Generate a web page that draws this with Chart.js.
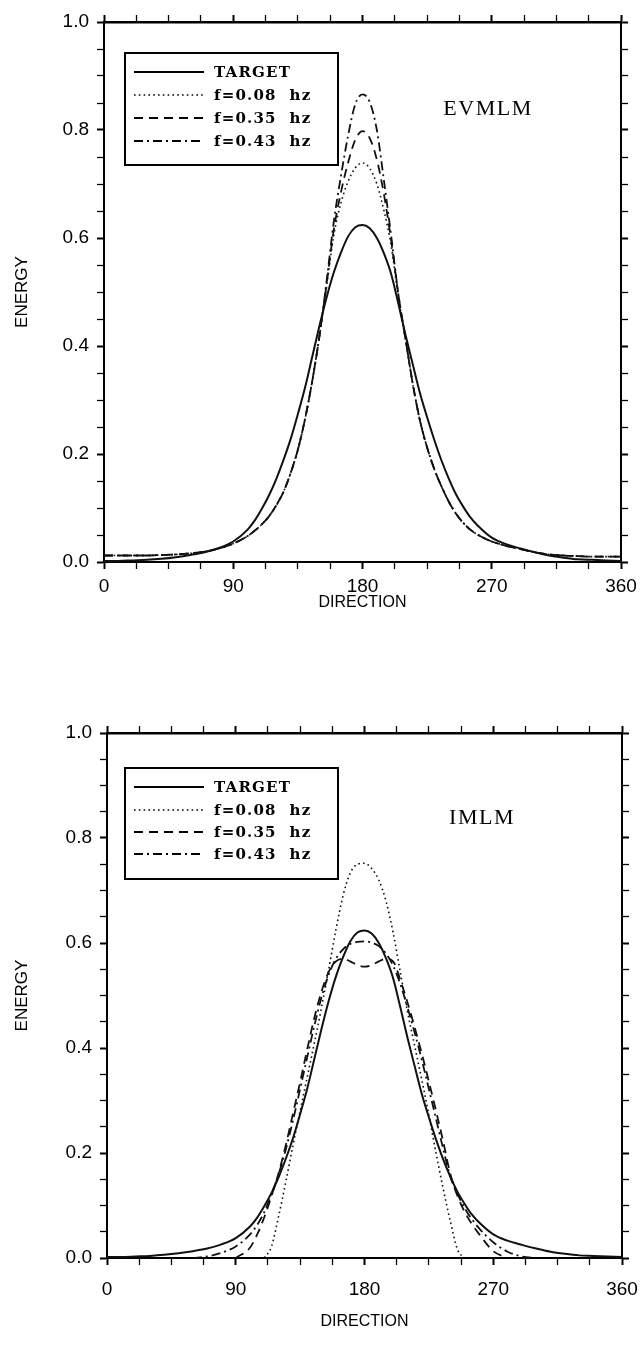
<!DOCTYPE html>
<html lang="en">

<head>
    <meta charset="UTF-8">
    <title>Directional spreading - EVMLM / IMLM</title>
    <script src="https://cdn.jsdelivr.net/npm/chart.js"></script>
    <style>
        body {
            margin: 0;
            padding: 0;
            background: #fff;
        }

        canvas {
            position: absolute;
            left: 0;
        }

        #evmlmChart {
            top: 0;
        }

        #imlmChart {
            top: 660px;
        }
    </style>
</head>

<body>
    <canvas id="evmlmChart" width="644" height="620" style="width:644px;height:620px"></canvas>
    <canvas id="imlmChart" width="644" height="687" style="width:644px;height:687px"></canvas>

    <script>
        // direction (deg) sample points shared by every curve
        const directions = [0, 10, 20, 30, 40, 50, 60, 70, 80, 90, 100,
            105, 110, 115, 120, 125, 130, 135, 140, 145, 150, 155, 160, 165, 170, 175, 180,
            185, 190, 195, 200, 205, 210, 215, 220, 225, 230, 235, 240, 245, 250, 255,
            260, 270, 280, 290, 300, 310, 320, 330, 340, 350, 360];

        const seriesLabels = ['TARGET', 'f=0.08  hz', 'f=0.35  hz', 'f=0.43  hz'];

        // target spreading function (same in both panels)
        const target = [0.002, 0.002, 0.003, 0.004, 0.006, 0.009, 0.013, 0.018, 0.026, 0.038, 0.060,
            0.077, 0.099, 0.124, 0.154, 0.189, 0.228, 0.274, 0.323, 0.380, 0.437, 0.490, 0.536, 0.573, 0.603, 0.620, 0.624,
            0.618, 0.600, 0.571, 0.533, 0.478, 0.420, 0.366, 0.313, 0.268, 0.226, 0.188, 0.155, 0.126, 0.103, 0.083,
            0.068, 0.045, 0.033, 0.025, 0.018, 0.012, 0.008, 0.005, 0.004, 0.003, 0.002];

        // EVMLM estimates
        const evmlm008 = [0.012, 0.012, 0.012, 0.012, 0.013, 0.014, 0.016, 0.019, 0.025, 0.034, 0.048,
            0.058, 0.070, 0.085, 0.105, 0.130, 0.165, 0.208, 0.265, 0.335, 0.418, 0.510, 0.605, 0.665, 0.705, 0.730, 0.739,
            0.729, 0.700, 0.650, 0.585, 0.490, 0.412, 0.330, 0.262, 0.212, 0.172, 0.140, 0.112, 0.090, 0.073, 0.060,
            0.051, 0.038, 0.030, 0.024, 0.018, 0.014, 0.012, 0.011, 0.010, 0.010, 0.010];
        const evmlm035 = [0.012, 0.012, 0.012, 0.012, 0.013, 0.014, 0.016, 0.019, 0.025, 0.034, 0.048,
            0.058, 0.070, 0.085, 0.105, 0.130, 0.165, 0.208, 0.265, 0.335, 0.418, 0.515, 0.615, 0.685, 0.740, 0.782, 0.798,
            0.785, 0.745, 0.680, 0.595, 0.495, 0.412, 0.330, 0.262, 0.212, 0.172, 0.140, 0.112, 0.090, 0.073, 0.060,
            0.051, 0.038, 0.030, 0.024, 0.018, 0.014, 0.012, 0.011, 0.010, 0.010, 0.010];
        const evmlm043 = [0.012, 0.012, 0.012, 0.012, 0.013, 0.014, 0.016, 0.019, 0.025, 0.034, 0.048,
            0.058, 0.070, 0.085, 0.105, 0.130, 0.165, 0.208, 0.265, 0.335, 0.418, 0.520, 0.630, 0.715, 0.790, 0.848, 0.866,
            0.852, 0.800, 0.705, 0.603, 0.495, 0.412, 0.330, 0.262, 0.212, 0.172, 0.140, 0.112, 0.090, 0.073, 0.060,
            0.051, 0.038, 0.030, 0.024, 0.018, 0.014, 0.012, 0.011, 0.010, 0.010, 0.010];

        // IMLM estimates (null = no estimate drawn)
        const imlm008 = [null, null, null, null, null, null, null, null, null, null, null,
            null, 0.000, 0.022, 0.080, 0.145, 0.215, 0.280, 0.345, 0.410, 0.478, 0.550, 0.625, 0.690, 0.733, 0.750, 0.752,
            0.742, 0.720, 0.680, 0.620, 0.545, 0.470, 0.405, 0.340, 0.272, 0.200, 0.132, 0.070, 0.016, 0.000, null,
            null, null, null, null, null, null, null, null, null, null, null];
        const imlm035 = [null, null, null, null, null, null, null, null, null, 0.000, 0.020,
            0.045, 0.078, 0.118, 0.162, 0.215, 0.275, 0.335, 0.398, 0.458, 0.508, 0.545, 0.565, 0.570, 0.565, 0.558, 0.555,
            0.558, 0.565, 0.570, 0.565, 0.530, 0.487, 0.440, 0.390, 0.336, 0.280, 0.222, 0.160, 0.118, 0.088, 0.065,
            0.046, 0.013, 0.000, null, null, null, null, null, null, null, null];
        const imlm043 = [null, null, null, null, null, null, 0.000, 0.003, 0.010, 0.022, 0.045,
            0.063, 0.088, 0.122, 0.160, 0.207, 0.262, 0.322, 0.383, 0.443, 0.497, 0.540, 0.570, 0.588, 0.598, 0.602, 0.603,
            0.601, 0.594, 0.580, 0.557, 0.522, 0.478, 0.430, 0.378, 0.322, 0.265, 0.208, 0.155, 0.122, 0.095, 0.074,
            0.057, 0.030, 0.012, 0.003, 0.000, null, null, null, null, null, null];

        Chart.defaults.font.family = "'Liberation Sans', Arial, sans-serif";
        Chart.defaults.color = '#000';

        const lineStyles = [
            { borderWidth: 2, borderDash: [] },
            { borderWidth: 1.6, borderDash: [1.6, 3.2] },
            { borderWidth: 1.8, borderDash: [9, 6] },
            { borderWidth: 1.8, borderDash: [9, 4, 2, 4] }
        ];

        function points(values) {
            return directions.map((d, i) => ({ x: d, y: values[i] }));
        }

        function makeDatasets(seriesList) {
            return seriesList.map((values, i) => ({
                label: seriesLabels[i],
                data: points(values),
                borderColor: '#111',
                borderWidth: lineStyles[i].borderWidth,
                borderDash: lineStyles[i].borderDash,
                pointRadius: 0,
                fill: false,
                spanGaps: false,
                cubicInterpolationMode: 'monotone'
            }));
        }

        // legend box with line samples plus the method name, drawn inside the plot
        const boxLegend = {
            id: 'boxLegend',
            afterDatasetsDraw(chart, args, opts) {
                const ctx = chart.ctx;
                ctx.save();
                ctx.fillStyle = '#fff';
                ctx.fillRect(opts.left, opts.top, opts.width, opts.height);
                ctx.strokeStyle = '#000';
                ctx.lineWidth = 2;
                ctx.strokeRect(opts.left, opts.top, opts.width, opts.height);

                chart.data.datasets.forEach((ds, i) => {
                    const y = opts.rows[i];
                    ctx.beginPath();
                    ctx.setLineDash(ds.borderDash || []);
                    ctx.lineWidth = ds.borderWidth;
                    ctx.moveTo(opts.left + 9, y);
                    ctx.lineTo(opts.left + 79, y);
                    ctx.stroke();
                    ctx.setLineDash([]);
                    ctx.font = "bold 15px 'DejaVu Serif', serif";
                    ctx.letterSpacing = '1.2px';
                    ctx.fillStyle = '#000';
                    ctx.textBaseline = 'middle';
                    ctx.fillText(ds.label, opts.left + 89, y + 1);
                });

                ctx.letterSpacing = '1.5px';
                ctx.font = "22px 'Liberation Serif', serif";
                ctx.textAlign = 'center';
                ctx.fillText(opts.tag, opts.tagX, opts.tagY);
                ctx.restore();
            }
        };

        function buildChart(id, seriesList, box, frame) {
            const majorX = v => v.tick && v.tick.value % 90 === 0;
            const majorY = v => v.tick && Math.round(v.tick.value * 100) % 20 === 0;
            const tickGrid = isMajor => ({
                drawOnChartArea: false,
                drawTicks: true,
                tickLength: 7,
                tickColor: '#000',
                tickWidth: c => isMajor(c) ? 2 : 1.3
            });
            // fixed box sizes so the plot frame lands where we want it
            const fixHeight = h => s => { s.height = h; s.paddingLeft = 0; s.paddingRight = 0; };
            const fixWidth = w => s => { s.width = w; s.paddingTop = 0; s.paddingBottom = 0; };
            return new Chart(document.getElementById(id), {
                type: 'line',
                data: { datasets: makeDatasets(seriesList) },
                options: {
                    responsive: false,
                    animation: false,
                    events: [],
                    layout: { padding: 0 },
                    plugins: {
                        legend: { display: false },
                        tooltip: { enabled: false },
                        boxLegend: box
                    },
                    scales: {
                        x: {
                            type: 'linear',
                            position: 'bottom',
                            min: 0,
                            max: 360,
                            border: { display: true, color: '#000', width: 2 },
                            grid: tickGrid(majorX),
                            ticks: {
                                stepSize: 22.5,
                                autoSkip: false,
                                maxRotation: 0,
                                padding: frame.xTickPad,
                                font: { size: 19 },
                                callback: v => v % 90 === 0 ? v : ''
                            },
                            title: {
                                display: true,
                                text: 'DIRECTION',
                                font: { size: 16 },
                                padding: { bottom: frame.xTitlePad }
                            },
                            afterFit: fixHeight(frame.bottomH)
                        },
                        x2: {
                            type: 'linear',
                            position: 'top',
                            min: 0,
                            max: 360,
                            border: { display: true, color: '#000', width: 2.6 },
                            grid: tickGrid(majorX),
                            ticks: { display: false, stepSize: 22.5, autoSkip: false },
                            afterFit: fixHeight(frame.topH)
                        },
                        y: {
                            position: 'left',
                            min: 0,
                            max: 1,
                            border: { display: true, color: '#000', width: 2 },
                            grid: tickGrid(majorY),
                            ticks: {
                                stepSize: 0.05,
                                autoSkip: false,
                                padding: 8,
                                font: { size: 19 },
                                callback: v => Math.round(v * 100) % 20 === 0 ? v.toFixed(1) : ''
                            },
                            title: {
                                display: true,
                                text: 'ENERGY',
                                font: { size: 17 },
                                padding: { top: 12 }
                            },
                            afterFit: fixWidth(frame.leftW)
                        },
                        y2: {
                            position: 'right',
                            min: 0,
                            max: 1,
                            border: { display: true, color: '#000', width: 2 },
                            grid: tickGrid(majorY),
                            ticks: { display: false, stepSize: 0.05, autoSkip: false },
                            afterFit: fixWidth(frame.rightW)
                        }
                    }
                },
                plugins: [boxLegend]
            });
        }

        buildChart('evmlmChart', [target, evmlm008, evmlm035, evmlm043],
            { left: 125, top: 53, width: 213, height: 112, rows: [72, 95, 118, 141], tag: 'EVMLM', tagX: 488, tagY: 109 },
            { leftW: 104, rightW: 23, topH: 22, bottomH: 58, xTitlePad: 8, xTickPad: 6 });

        buildChart('imlmChart', [target, imlm008, imlm035, imlm043],
            { left: 125, top: 108, width: 213, height: 111, rows: [127, 150, 172, 194], tag: 'IMLM', tagX: 482, tagY: 158 },
            { leftW: 107, rightW: 22, topH: 73, bottomH: 89, xTitlePad: 16, xTickPad: 13 });
    </script>
</body>

</html>
